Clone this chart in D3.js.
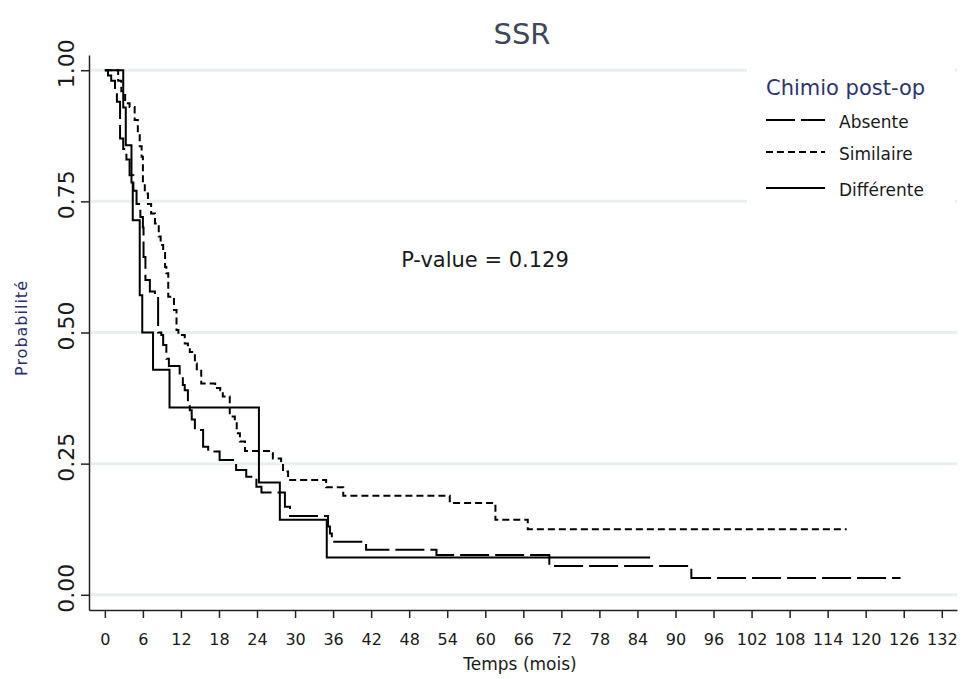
<!DOCTYPE html>
<html>
<head>
    <title>SSR</title>
    <script src="https://d3js.org/d3.v7.min.js"></script>
    <style>
        body { margin: 0; background: #fff; }
        text { font-family: "DejaVu Sans", sans-serif; }
    </style>
</head>
<body>
    <svg width="963" height="679"></svg>
    <script>

        // Kaplan-Meier steps (time in months, survival)
        const absenteT = [0, 0.5, 1.0, 1.6, 1.9, 2.4, 2.9, 3.4, 3.9, 4.5, 5.0, 5.6, 6.0, 6.1, 6.4, 7.1, 7.9, 8.4, 8.9, 9.2, 9.7, 10.1, 11.8, 12.3, 12.6, 13.1, 13.4, 13.7, 14.2, 15.5, 16.3, 18.1, 20.7, 22.3, 23.9, 24.7, 28.4, 29.2, 35.2, 35.5, 35.8, 41.2, 52.3, 70.1, 92.5, 125.5];
        const absenteS = [1, 0.99, 0.98, 0.96, 0.94, 0.87, 0.85, 0.83, 0.80, 0.77, 0.745, 0.72, 0.70, 0.644, 0.60, 0.578, 0.568, 0.50, 0.495, 0.476, 0.45, 0.436, 0.416, 0.40, 0.39, 0.371, 0.352, 0.334, 0.314, 0.282, 0.273, 0.257, 0.238, 0.225, 0.206, 0.195, 0.168, 0.15, 0.13, 0.117, 0.101, 0.086, 0.076, 0.055, 0.032, 0.032];

        const similaireT = [0, 2.1, 2.6, 3.2, 3.9, 4.7, 5.2, 5.5, 5.8, 6.0, 6.3, 6.8, 7.3, 7.9, 8.5, 8.8, 9.2, 9.5, 9.7, 10.0, 10.9, 11.3, 11.6, 12.6, 13.1, 13.4, 14.2, 14.5, 15.2, 17.4, 18.2, 18.6, 19.7, 20.5, 20.8, 21.3, 22.1, 26.5, 27.8, 28.1, 28.9, 34.9, 37.6, 54.4, 61.6, 66.7, 117];
        const similaireS = [1, 0.98, 0.96, 0.937, 0.93, 0.905, 0.88, 0.855, 0.835, 0.785, 0.765, 0.745, 0.727, 0.708, 0.683, 0.667, 0.654, 0.625, 0.613, 0.568, 0.543, 0.505, 0.495, 0.479, 0.47, 0.463, 0.441, 0.43, 0.403, 0.394, 0.39, 0.378, 0.34, 0.327, 0.308, 0.292, 0.274, 0.26, 0.251, 0.235, 0.219, 0.205, 0.189, 0.175, 0.143, 0.125, 0.125];

        const differenteT = [0, 2.9, 3.3, 4.2, 4.4, 5.5, 5.9, 7.6, 10.2, 24.3, 27.6, 35.0, 86];
        const differenteS = [1, 0.929, 0.857, 0.786, 0.714, 0.571, 0.5, 0.429, 0.357, 0.214, 0.143, 0.071, 0.071];

        const groups = ["Absente", "Similaire", "Différente"];
        const dashes = ["29,6", "7,4", null];
        const xTicks = d3.range(0, 133, 6);
        const yTicks = [0, 0.25, 0.5, 0.75, 1];

        const series = [
            absenteT.map((t, i) => ({ t: t, s: absenteS[i] })),
            similaireT.map((t, i) => ({ t: t, s: similaireS[i] })),
            differenteT.map((t, i) => ({ t: t, s: differenteS[i] }))
        ];

        const svg = d3.select("svg");

        const x = d3.scaleLinear().domain([-2.5, 134.4]).range([89, 957]);
        const y = d3.scaleLinear().domain([-0.029, 1.029]).range([610, 55]);

        // horizontal grid
        svg.append("g")
            .selectAll("line")
            .data(yTicks)
            .join("line")
            .attr("x1", 91).attr("x2", 957)
            .attr("y1", d => y(d)).attr("y2", d => y(d))
            .attr("stroke", "#e8eff1")
            .attr("stroke-width", 3);

        // title
        svg.append("text")
            .attr("x", 522).attr("y", 44)
            .attr("text-anchor", "middle")
            .style("font-size", "29px")
            .style("fill", "#3d4757")
            .text("SSR");

        // y axis
        const yAxis = svg.append("g")
            .attr("transform", "translate(89,0)")
            .call(d3.axisLeft(y).tickValues(yTicks).tickFormat(d3.format(".2f")).tickSize(8).tickSizeOuter(0));
        yAxis.selectAll(".tick text")
            .attr("x", null).attr("dy", null)
            .attr("text-anchor", "middle")
            .attr("transform", "translate(-15,-7) rotate(-90)")
            .style("font-size", "22px")
            .style("fill", "#1a1a1a");

        // x axis
        const xAxis = svg.append("g")
            .attr("transform", "translate(0,610)")
            .call(d3.axisBottom(x).tickValues(xTicks).tickFormat(d3.format("d")).tickSize(8).tickSizeOuter(0));
        xAxis.selectAll(".tick text")
            .attr("y", 35).attr("dy", null)
            .style("font-size", "16px")
            .style("fill", "#1a1a1a");

        svg.selectAll(".domain, .tick line")
            .attr("stroke", "#222")
            .attr("stroke-width", 1.5);

        // axis titles
        svg.append("text")
            .attr("x", 520).attr("y", 670)
            .attr("text-anchor", "middle")
            .style("font-size", "17px")
            .style("fill", "#1a1a1a")
            .text("Temps (mois)");

        svg.append("text")
            .attr("transform", "translate(27,328) rotate(-90)")
            .attr("text-anchor", "middle")
            .style("font-size", "16px")
            .style("letter-spacing", "1px")
            .style("fill", "#2b2d6e")
            .text("Probabilité");

        // survival curves
        const line = d3.line()
            .curve(d3.curveStepAfter)
            .x(d => x(d.t))
            .y(d => y(d.s));

        series.forEach(function(data, i) {
            svg.append("path")
                .datum(data)
                .attr("fill", "none")
                .attr("stroke", "#000")
                .attr("stroke-width", 2)
                .attr("stroke-dasharray", dashes[i])
                .attr("d", line);
        });

        svg.append("text")
            .attr("x", 485).attr("y", 267)
            .attr("text-anchor", "middle")
            .style("font-size", "21px")
            .style("fill", "#1a1a1a")
            .text("P-value = 0.129");

        // legend
        const legend = svg.append("g");
        legend.append("rect")
            .attr("x", 747).attr("y", 64)
            .attr("width", 208).attr("height", 142)
            .attr("fill", "#fff");
        legend.append("text")
            .attr("x", 766).attr("y", 95)
            .style("font-size", "21px")
            .style("fill", "#2a3470")
            .text("Chimio post-op");

        const legY = [120, 152, 188];
        groups.forEach(function(g, i) {
            legend.append("line")
                .attr("x1", 766).attr("x2", 825)
                .attr("y1", legY[i]).attr("y2", legY[i])
                .attr("stroke", "#000")
                .attr("stroke-width", 2)
                .attr("stroke-dasharray", dashes[i]);
            legend.append("text")
                .attr("x", 839).attr("y", legY[i] + 8)
                .style("font-size", "17px")
                .style("fill", "#1a1a1a")
                .text(g);
        });

    </script>
</body>
</html>
